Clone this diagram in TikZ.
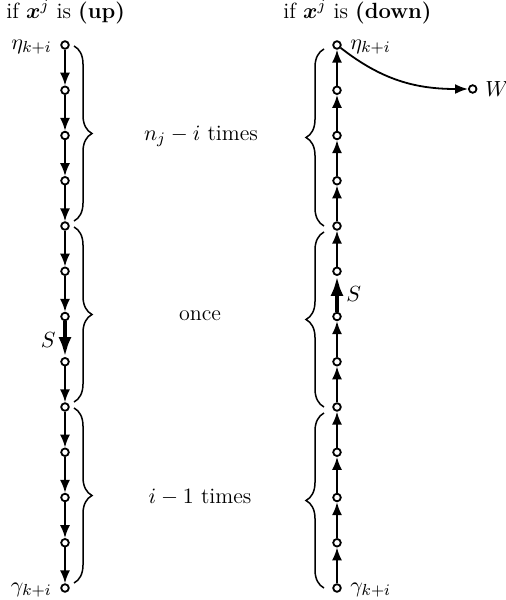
\documentclass[tikz,border=0pt]{standalone}
\usepackage{amsmath,bm}
\usetikzlibrary{arrows.meta,decorations.pathreplacing}
\begin{document}
\begin{tikzpicture}[x=0.5pt,y=-0.5pt,
  vtx/.style={circle,draw,line width=0.9pt,inner sep=0pt,minimum size=3.8pt,fill=white},
  edge/.style={line width=0.9pt,-{Latex[length=6.5pt,width=5pt]}},
  bigedge/.style={line width=2pt,-{Latex[length=10pt,width=6.5pt]}},
  brc/.style={decorate,decoration={brace,amplitude=9pt},line width=0.75pt},
  lbl/.style={font=\fontsize{11}{13}\selectfont,inner sep=0pt},
]
\useasboundingbox (0,0) rectangle (505,600);
% vertices
\foreach \k in {0,...,12} {
  \node[vtx] (L\k) at (65,{45+45.25*\k}) {};
  \node[vtx] (R\k) at (337,{45+45.25*\k}) {};
}
% left column: downward arrows
\foreach \k/\n in {0/1,1/2,2/3,3/4,4/5,5/6,7/8,8/9,9/10,10/11,11/12} {
  \draw[edge] (L\k) -- (L\n);
}
\draw[bigedge] (L6) -- (L7);
% right column: upward arrows
\foreach \k/\n in {0/1,1/2,2/3,3/4,4/5,6/7,7/8,8/9,9/10,10/11,11/12} {
  \draw[edge] (R\n) -- (R\k);
}
\draw[bigedge] (R6) -- (R5);
% extra vertex W
\node[vtx] (W) at (472.7,89) {};
\draw[edge] (R0) to[out=-38,in=180] (W);
\node[lbl,anchor=west] (Wl) at (485,89) {$W$};
% headers
\node[lbl,anchor=base west] (h1) at (6,18) {if $\bm{x}^j$ is \textbf{(up)}};
\node[lbl,anchor=base west] (h2) at (283,18) {if $\bm{x}^j$ is \textbf{(down)}};
% vertex labels
\node[lbl,anchor=east] (etaL) at (52,47) {$\eta_{k+i}$};
\node[lbl,anchor=west] (etaR) at (350,47) {$\eta_{k+i}$};
\node[lbl,anchor=east] (gamL) at (52,590) {$\gamma_{k+i}$};
\node[lbl,anchor=west] (gamR) at (350,590) {$\gamma_{k+i}$};
\node[lbl,anchor=east] (SL) at (56,340) {$S$};
\node[lbl,anchor=west] (SR) at (346,294) {$S$};
% braces, left column
\draw[brc] ([xshift=4.5pt,yshift=-0.5pt]L0.center) -- ([xshift=4.5pt,yshift=2.5pt]L4.center);
\draw[brc] ([xshift=4.5pt,yshift=-0.5pt]L4.center) -- ([xshift=4.5pt,yshift=2.5pt]L8.center);
\draw[brc] ([xshift=4.5pt,yshift=-0.5pt]L8.center) -- ([xshift=4.5pt,yshift=2.5pt]L12.center);
% braces, right column
\draw[brc] ([xshift=-6.5pt,yshift=0pt]R12.center) -- ([xshift=-6.5pt,yshift=-3pt]R8.center);
\draw[brc] ([xshift=-6.5pt,yshift=0pt]R8.center) -- ([xshift=-6.5pt,yshift=-3pt]R4.center);
\draw[brc] ([xshift=-6.5pt,yshift=0pt]R4.center) -- ([xshift=-6.5pt,yshift=-2pt]R0.center);
% brace labels
\node[lbl] (t1) at (201,136) {$n_j - i$ times};
\node[lbl] (t2) at (200,316) {once};
\node[lbl] (t3) at (200,497) {$i - 1$ times};
\end{tikzpicture}
\end{document}
